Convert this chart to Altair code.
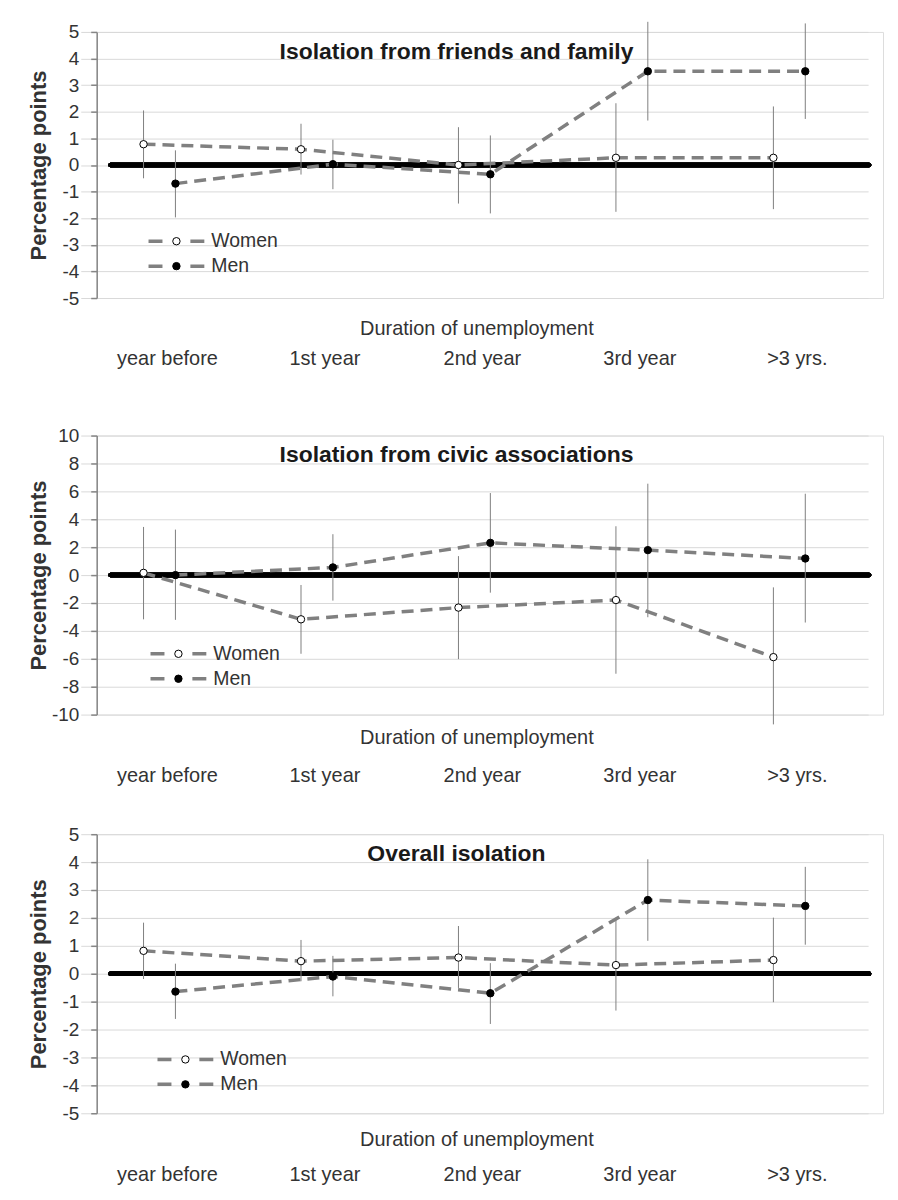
import altair as alt
import pandas as pd

categories = ["year before", "1st year", "2nd year", "3rd year", ">3 yrs."]
series = ["Women", "Men"]
panel_titles = ["Isolation from friends and family",
                "Isolation from civic associations",
                "Overall isolation"]
x_title = "Duration of unemployment"
y_title = "Percentage points"

# Panel 1: friends and family
ff_women = [0.78, 0.59, 0.0, 0.27, 0.27]
ff_women_lo = [-0.50, -0.36, -1.45, -1.76, -1.66]
ff_women_hi = [2.05, 1.55, 1.42, 2.32, 2.20]
ff_men = [-0.70, 0.03, -0.35, 3.52, 3.52]
ff_men_lo = [-1.97, -0.91, -1.82, 1.67, 1.73]
ff_men_hi = [0.55, 0.95, 1.11, 5.38, 5.32]

# Panel 2: civic associations
ca_women = [0.16, -3.17, -2.33, -1.79, -5.88]
ca_women_lo = [-3.17, -5.64, -6.02, -7.07, -10.7]
ca_women_hi = [3.45, -0.71, 1.36, 3.50, -0.88]
ca_men = [0.0, 0.55, 2.31, 1.79, 1.19]
ca_men_lo = [-3.21, -1.83, -1.26, -3.02, -3.40]
ca_men_hi = [3.26, 2.93, 5.88, 6.55, 5.83]

# Panel 3: overall isolation
ov_women = [0.82, 0.45, 0.58, 0.31, 0.49]
ov_women_lo = [-0.19, -0.27, -0.51, -1.32, -1.02]
ov_women_hi = [1.83, 1.21, 1.71, 1.95, 2.01]
ov_men = [-0.64, -0.10, -0.70, 2.64, 2.43]
ov_men_lo = [-1.62, -0.81, -1.80, 1.18, 1.04]
ov_men_hi = [0.36, 0.64, 0.38, 4.10, 3.83]

FONT = "Liberation Sans"
GREY = "#808080"
W = 789


def make_df(w, wlo, whi, m, mlo, mhi):
    rows = []
    for s, v, lo, hi in [("Women", w, wlo, whi), ("Men", m, mlo, mhi)]:
        for c, a, b, d in zip(categories, v, lo, hi):
            rows.append({"cat": c, "sex": s, "val": a, "lo": b, "hi": d})
    return pd.DataFrame(rows)


def panel(df, title, ydom, ystep, height, xtitle_y, leg_x, leg_y):
    ticks = list(range(ydom[0], ydom[1] + 1, ystep))
    yscale = alt.Scale(domain=ydom, nice=False, zero=False)
    yaxis = alt.Axis(values=ticks, grid=True, gridColor="#d9d9d9", gridWidth=1,
                     domainColor="#868686", domainWidth=1.5, tickColor="#868686",
                     tickSize=6, tickWidth=1.5, labelFontSize=19, labelColor="#333333",
                     labelPadding=12,
                     labelExpr="replace(datum.label, '\u2212', '-')",
                     titleFontSize=22, titleFontWeight="bold",
                     titleColor="#333333", titleAngle=270, titleAlign="center",
                     titleBaseline="bottom", titleX=-46, titleY=height / 2)
    xscale = alt.Scale(domain=categories, range=[-16, 774], paddingInner=0, paddingOuter=0)
    xaxis = alt.Axis(domain=False, ticks=False, grid=False, labelAngle=0,
                     labelFontSize=20, labelColor="#333333", labelPadding=51,
                     labelOffset=8, title=x_title, titleFontSize=20,
                     titleFontWeight="normal", titleColor="#333333",
                     titleX=381, titleY=xtitle_y, titleAlign="center",
                     titleBaseline="middle")
    xenc = alt.X("cat:N", sort=categories, scale=xscale, axis=xaxis)
    xo = alt.XOffset("sex:N", scale=alt.Scale(domain=series, range=[47, 111],
                                               paddingInner=0, paddingOuter=0))

    def Y(field):
        return alt.Y(field, scale=yscale, axis=yaxis, title=y_title)

    base = alt.Chart(df).encode(x=xenc, xOffset=xo)

    zero = alt.Chart(df).mark_rule(color="black", strokeWidth=4.5, strokeCap="round").encode(
        y=alt.YDatum(0, scale=yscale, axis=yaxis, title=y_title),
        x=alt.value(14), x2=alt.value(775))
    bars = base.mark_rule(color=GREY, strokeWidth=1).encode(y=Y("lo:Q"), y2="hi:Q")
    lines = base.mark_line(color=GREY, strokeWidth=3.5, strokeDash=[12, 7]).encode(
        y=Y("val:Q"), detail="sex:N")
    pts = base.mark_point(filled=False, size=55, stroke="black", strokeWidth=1,
                          opacity=1).encode(
        y=Y("val:Q"),
        fill=alt.Fill("sex:N", scale=alt.Scale(domain=series, range=["white", "black"]),
                      legend=None))
    ttl = alt.Chart(pd.DataFrame({"t": [title]})).mark_text(
        font=FONT, fontSize=23, fontWeight="bold", color="#1a1a1a",
        align="center", baseline="middle").encode(
        text="t:N", x=alt.value(361), y=alt.value(20))

    layers = [zero, bars, lines, pts, ttl]
    for i, (name, fillc) in enumerate(zip(series, ["white", "black"])):
        ly = leg_y + 25 * i
        ldf = pd.DataFrame({"s": [name]})
        layers.append(alt.Chart(ldf).mark_rule(color=GREY, strokeWidth=3.5,
                                               strokeDash=[14, 28]).encode(
            x=alt.value(leg_x), x2=alt.value(leg_x + 57), y=alt.value(ly)))
        layers.append(alt.Chart(ldf).mark_point(filled=True, fill=fillc, stroke="black",
                                                strokeWidth=1, size=55, opacity=1).encode(
            x=alt.value(leg_x + 28), y=alt.value(ly)))
        layers.append(alt.Chart(ldf).mark_text(font=FONT, fontSize=19.5, color="#333333",
                                               align="left", baseline="middle").encode(
            text="s:N", x=alt.value(leg_x + 63), y=alt.value(ly)))
    return alt.layer(*layers).properties(width=W, height=height)


p1 = panel(make_df(ff_women, ff_women_lo, ff_women_hi, ff_men, ff_men_lo, ff_men_hi),
           panel_titles[0], [-5, 5], 1, 267, 31, 52, 210)
p2 = panel(make_df(ca_women, ca_women_lo, ca_women_hi, ca_men, ca_men_lo, ca_men_hi),
           panel_titles[1], [-10, 10], 2, 280, 23, 54, 219)
p3 = panel(make_df(ov_women, ov_women_lo, ov_women_hi, ov_men, ov_men_lo, ov_men_hi),
           panel_titles[2], [-5, 5], 1, 280, 26, 61, 226)

chart = alt.vconcat(p1, alt.vconcat(p2, p3, spacing=38), spacing=56).properties(
    padding={"left": 19, "top": 10, "right": 5, "bottom": 5}
).configure_view(stroke=None).configure(font=FONT)

chart.save("out.html", embed_options={"renderer": "svg", "actions": False})
